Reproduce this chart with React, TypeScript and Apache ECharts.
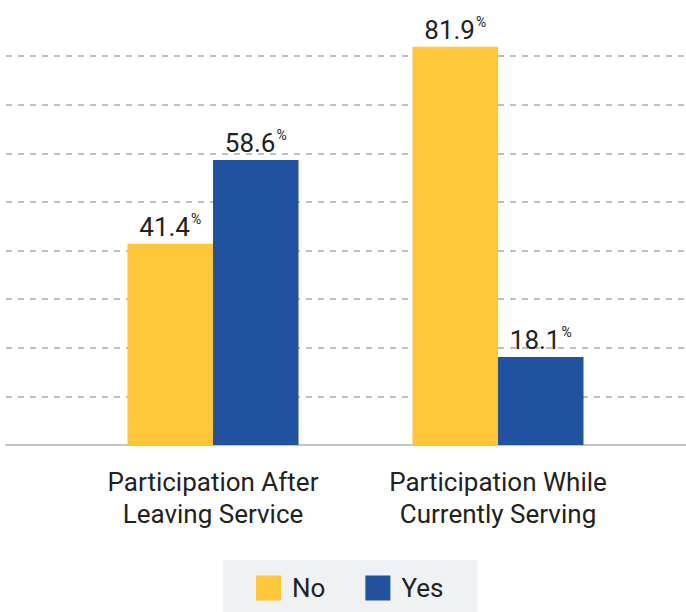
import React, { useEffect, useRef } from "react";
import * as echarts from "echarts";

const categories = ["Participation After\nLeaving Service", "Participation While\nCurrently Serving"];
const noValues = [41.4, 81.9];
const yesValues = [58.6, 18.1];
const seriesNames = ["No", "Yes"];
const axisMax = 80;
const axisInterval = 10;

const YELLOW = "#FFC637";
const BLUE = "#2052A0";
const FONT = "Roboto";

const valueLabel = {
  show: true,
  position: "top",
  distance: 4,
  formatter: (p: any) => `{v|${p.value.toFixed(1)}}{p|%}`,
  rich: {
    v: { fontFamily: FONT, fontSize: 26, color: "#222222", lineHeight: 28, verticalAlign: "bottom" },
    p: { fontFamily: FONT, fontSize: 14, color: "#222222", lineHeight: 28, verticalAlign: "top", padding: [0, 0, 12, 1] },
  },
};

export default function App() {
  const ref = useRef<HTMLDivElement>(null);
  useEffect(() => {
    document.body.style.margin = "0";
    const chart = echarts.init(ref.current!, null, { renderer: "svg" });
    chart.setOption({
      animation: false,
      backgroundColor: "#ffffff",
      grid: [
        { left: 6, right: 0, top: 56, height: 389 },
        { left: 70.5, width: 570, top: 56, height: 389 },
      ],
      xAxis: [
        {
          gridIndex: 0,
          type: "value",
          min: 0,
          max: 1,
          axisLine: { show: true, lineStyle: { color: "#c4c4c4", width: 2 } },
          axisTick: { show: false },
          axisLabel: { show: false },
          splitLine: { show: false },
        },
        {
          gridIndex: 1,
          type: "category",
          data: categories,
          axisLine: { show: false },
          axisTick: { show: false },
          axisLabel: {
            fontFamily: FONT,
            fontSize: 26,
            color: "#222222",
            lineHeight: 32,
            margin: 21,
            align: "center",
          },
        },
      ],
      yAxis: [
        {
          gridIndex: 0,
          type: "value",
          min: 0,
          max: axisMax,
          interval: axisInterval,
          axisLine: { show: false },
          axisTick: { show: false },
          axisLabel: { show: false },
          splitLine: { show: true, lineStyle: { color: "#bfbfc3", width: 2, type: [6, 6] } },
        },
        {
          gridIndex: 1,
          type: "value",
          min: 0,
          max: axisMax,
          interval: axisInterval,
          show: false,
          splitLine: { show: false },
        },
      ],
      legend: {
        data: seriesNames,
        bottom: 0,
        left: 223,
        backgroundColor: "#F0F1F3",
        padding: [15, 34, 11, 33],
        itemWidth: 25,
        itemHeight: 25,
        itemGap: 40,
        icon: "rect",
        textStyle: { fontFamily: FONT, fontSize: 26, color: "#222222", lineHeight: 25, padding: [0, 0, 0, 6] },
      },
      series: [
        {
          name: seriesNames[0],
          type: "bar",
          xAxisIndex: 1,
          yAxisIndex: 1,
          data: noValues,
          barWidth: 85.5,
          barGap: "0%",
          clip: false,
          itemStyle: { color: YELLOW },
          label: valueLabel,
        },
        {
          name: seriesNames[1],
          type: "bar",
          xAxisIndex: 1,
          yAxisIndex: 1,
          data: yesValues,
          barWidth: 85.5,
          barGap: "0%",
          clip: false,
          itemStyle: { color: BLUE },
          label: valueLabel,
        },
      ],
    });
    return () => chart.dispose();
  }, []);
  return <div ref={ref} style={{ position: "fixed", left: 0, top: 0, width: 686, height: 612 }} />;
}
